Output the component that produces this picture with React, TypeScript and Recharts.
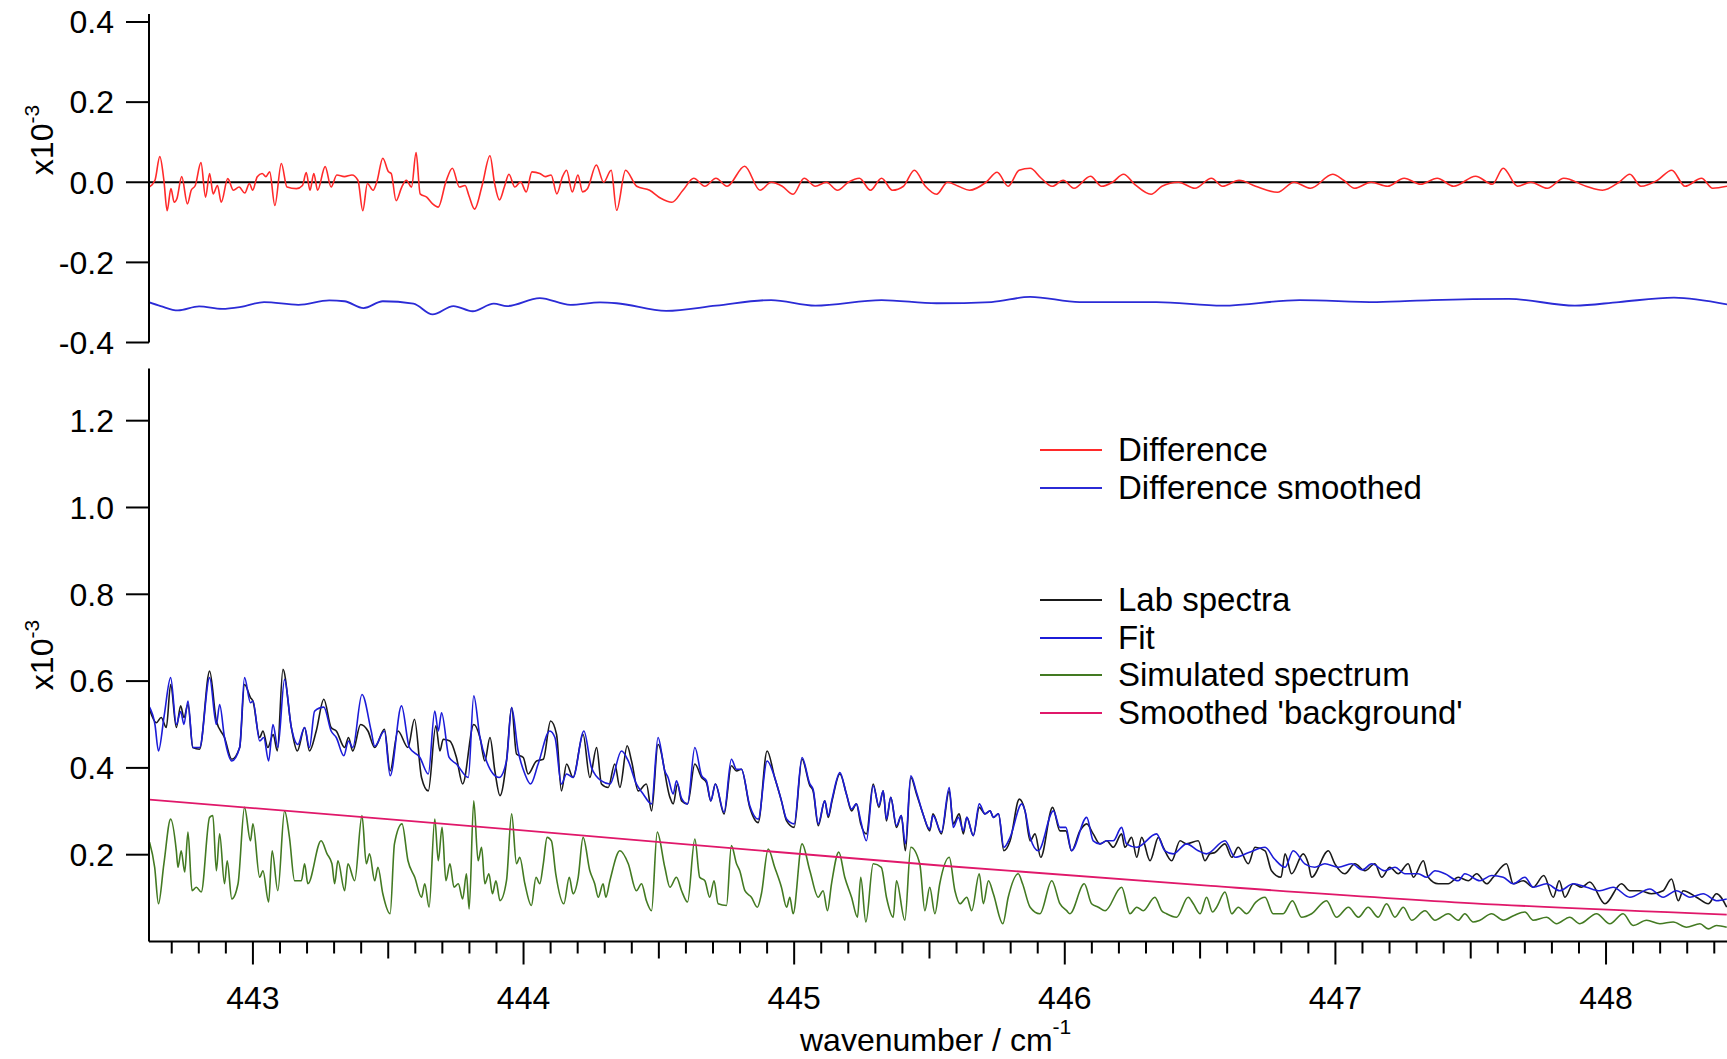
import React from 'react';
import { LineChart, Line, XAxis, YAxis, ReferenceLine } from 'recharts';

type Pt = [number, number];

// wavenumber / cm-1, values in units of 1e-3
const X_DOMAIN: [number, number] = [442.616, 448.447];
const X_TICKS = [
  442.7, 442.8, 442.9, 443, 443.1, 443.2, 443.3, 443.4, 443.5, 443.6, 443.7, 443.8, 443.9,
  444, 444.1, 444.2, 444.3, 444.4, 444.5, 444.6, 444.7, 444.8, 444.9,
  445, 445.1, 445.2, 445.3, 445.4, 445.5, 445.6, 445.7, 445.8, 445.9,
  446, 446.1, 446.2, 446.3, 446.4, 446.5, 446.6, 446.7, 446.8, 446.9,
  447, 447.1, 447.2, 447.3, 447.4, 447.5, 447.6, 447.7, 447.8, 447.9,
  448, 448.1, 448.2, 448.3, 448.4,
];
const X_LABELS = [443, 444, 445, 446, 447, 448];
const HALF_TICKS = [442.5, 443.5, 444.5, 445.5, 446.5, 447.5];
const TOP_TICKS = [-0.4, -0.2, 0, 0.2, 0.4];
const BOTTOM_TICKS = [0.2, 0.4, 0.6, 0.8, 1.0, 1.2];

const DIFFERENCE: Pt[] = [
  [442.617, -0.012], [442.638, 0.005], [442.656, 0.064], [442.671, 0.005], [442.683, -0.071],
  [442.697, -0.016], [442.709, -0.05], [442.719, -0.041], [442.737, 0.014], [442.758, -0.054],
  [442.772, -0.02], [442.787, -0.008], [442.808, 0.049], [442.825, -0.037], [442.84, 0.022],
  [442.853, -0.029], [442.869, -0.008], [442.883, -0.05], [442.907, 0.009], [442.928, -0.02],
  [442.949, -0.012], [442.97, -0.027], [442.987, -0.003], [442.999, -0.02], [443.016, 0.014],
  [443.034, 0.022], [443.048, 0.014], [443.062, 0.026], [443.081, -0.058], [443.105, 0.047],
  [443.126, -0.012], [443.161, -0.016], [443.183, -0.008], [443.197, 0.024], [443.211, -0.02],
  [443.225, 0.022], [443.239, -0.02], [443.267, 0.039], [443.289, -0.012], [443.31, 0.018],
  [443.338, 0.014], [443.366, 0.018], [443.388, 0.005], [443.406, -0.071], [443.423, -0.003],
  [443.444, -0.02], [443.458, 0.001], [443.48, 0.06], [443.501, 0.026], [443.511, 0.022],
  [443.529, -0.046], [443.55, -0.012], [443.567, 0.005], [443.586, -0.012], [443.603, 0.074],
  [443.618, -0.029], [443.642, -0.037], [443.664, -0.054], [443.685, -0.062], [443.713, 0.001],
  [443.737, 0.035], [443.763, -0.012], [443.784, -0.008], [443.798, -0.033], [443.819, -0.067],
  [443.847, -0.008], [443.876, 0.066], [443.893, -0.003], [443.911, -0.044], [443.929, -0.012],
  [443.946, 0.02], [443.968, -0.012], [443.989, 0.001], [444.01, -0.024], [444.031, 0.026],
  [444.06, 0.022], [444.081, 0.014], [444.102, 0.018], [444.123, -0.029], [444.144, 0.014],
  [444.159, 0.03], [444.18, -0.024], [444.201, 0.018], [444.218, -0.024], [444.236, -0.016],
  [444.269, 0.043], [444.296, 0.0], [444.324, 0.03], [444.344, -0.07], [444.377, 0.03],
  [444.418, -0.01], [444.466, -0.02], [444.507, -0.04], [444.548, -0.05], [444.589, -0.02],
  [444.629, 0.01], [444.67, -0.01], [444.711, 0.01], [444.752, -0.01], [444.817, 0.04],
  [444.874, -0.02], [444.915, 0.0], [444.956, -0.01], [444.996, -0.03], [445.037, 0.01],
  [445.078, -0.01], [445.119, 0.0], [445.16, -0.02], [445.2, 0.0], [445.241, 0.01],
  [445.282, -0.02], [445.323, 0.01], [445.363, -0.02], [445.404, -0.01], [445.444, 0.03],
  [445.485, -0.01], [445.526, -0.03], [445.567, 0.0], [445.607, -0.01], [445.648, -0.02],
  [445.709, 0.0], [445.75, 0.025], [445.791, -0.01], [445.831, 0.03], [445.872, 0.035],
  [445.913, 0.01], [445.953, -0.01], [445.994, 0.005], [446.034, -0.015], [446.095, 0.015],
  [446.136, -0.01], [446.176, 0.0], [446.217, 0.02], [446.258, -0.005], [446.319, -0.03],
  [446.359, -0.01], [446.42, 0.0], [446.481, -0.015], [446.542, 0.01], [446.583, -0.01],
  [446.644, 0.005], [446.705, -0.01], [446.786, -0.025], [446.847, 0.0], [446.908, -0.015],
  [446.99, 0.02], [447.03, 0.005], [447.071, -0.015], [447.132, 0.0], [447.193, -0.01],
  [447.254, 0.01], [447.315, -0.005], [447.376, 0.01], [447.437, -0.01], [447.518, 0.015],
  [447.58, -0.005], [447.62, 0.035], [447.673, -0.01], [447.722, 0.0], [447.783, -0.015],
  [447.844, 0.01], [447.926, -0.01], [447.987, -0.02], [448.048, 0.0], [448.088, 0.02],
  [448.129, -0.01], [448.19, 0.005], [448.243, 0.03], [448.292, -0.01], [448.353, 0.01],
  [448.394, -0.015], [448.447, -0.01],
];

const DIFFERENCE_SMOOTHED: Pt[] = [
  [442.614, -0.299], [442.659, -0.309], [442.723, -0.32], [442.801, -0.31], [442.886, -0.316],
  [442.956, -0.311], [443.041, -0.299], [443.168, -0.306], [443.282, -0.295], [443.338, -0.297],
  [443.409, -0.314], [443.48, -0.297], [443.593, -0.303], [443.664, -0.33], [443.741, -0.309],
  [443.812, -0.322], [443.89, -0.303], [443.939, -0.309], [444.06, -0.289], [444.173, -0.306],
  [444.283, -0.3], [444.344, -0.302], [444.527, -0.321], [444.711, -0.308], [444.915, -0.294],
  [445.078, -0.308], [445.323, -0.294], [445.526, -0.302], [445.729, -0.299], [445.872, -0.286],
  [446.055, -0.299], [446.339, -0.299], [446.583, -0.308], [446.868, -0.294], [447.153, -0.299],
  [447.356, -0.294], [447.641, -0.291], [447.885, -0.308], [448.048, -0.299], [448.251, -0.288],
  [448.447, -0.305],
];

const LAB_SPECTRA: Pt[] = [
  [442.618, 0.535], [442.643, 0.504], [442.661, 0.516], [442.68, 0.493], [442.696, 0.592],
  [442.717, 0.493], [442.733, 0.543], [442.745, 0.516], [442.76, 0.546], [442.778, 0.447],
  [442.803, 0.443], [442.84, 0.623], [442.865, 0.508], [442.895, 0.47], [442.922, 0.42],
  [442.951, 0.447], [442.969, 0.592], [442.991, 0.562], [443.0, 0.554], [443.025, 0.47],
  [443.037, 0.485], [443.055, 0.447], [443.075, 0.477], [443.09, 0.439], [443.111, 0.627],
  [443.142, 0.493], [443.164, 0.439], [443.191, 0.493], [443.209, 0.439], [443.234, 0.485],
  [443.262, 0.558], [443.289, 0.493], [443.308, 0.485], [443.339, 0.447], [443.353, 0.47],
  [443.369, 0.439], [443.398, 0.5], [443.425, 0.485], [443.45, 0.447], [443.486, 0.489],
  [443.507, 0.393], [443.536, 0.485], [443.573, 0.447], [443.597, 0.512], [443.623, 0.378],
  [443.648, 0.347], [443.676, 0.497], [443.691, 0.439], [443.703, 0.466], [443.728, 0.462],
  [443.752, 0.424], [443.775, 0.363], [443.816, 0.5], [443.839, 0.47], [443.857, 0.416],
  [443.876, 0.47], [443.894, 0.393], [443.913, 0.336], [443.937, 0.416], [443.956, 0.539],
  [443.974, 0.432], [443.999, 0.424], [444.017, 0.386], [444.048, 0.416], [444.073, 0.42],
  [444.1, 0.508], [444.122, 0.477], [444.14, 0.347], [444.159, 0.409], [444.183, 0.378],
  [444.22, 0.477], [444.245, 0.378], [444.27, 0.447], [444.288, 0.363], [444.313, 0.355],
  [444.337, 0.409], [444.356, 0.355], [444.383, 0.451], [444.399, 0.416], [444.424, 0.347],
  [444.454, 0.363], [444.473, 0.301], [444.497, 0.454], [444.541, 0.332], [444.553, 0.317],
  [444.569, 0.363], [444.584, 0.324], [444.606, 0.317], [444.633, 0.409], [444.658, 0.378],
  [444.676, 0.366], [444.692, 0.324], [444.709, 0.363], [444.741, 0.294], [444.768, 0.405],
  [444.787, 0.393], [444.805, 0.397], [444.836, 0.309], [444.867, 0.274], [444.9, 0.439],
  [444.928, 0.378], [444.953, 0.324], [444.972, 0.278], [445.0, 0.263], [445.029, 0.42],
  [445.058, 0.359], [445.07, 0.347], [445.089, 0.267], [445.113, 0.324], [445.126, 0.286],
  [445.14, 0.324], [445.169, 0.386], [445.193, 0.34], [445.212, 0.301], [445.23, 0.317],
  [445.246, 0.271], [445.267, 0.248], [445.292, 0.363], [445.313, 0.309], [445.329, 0.347],
  [445.341, 0.278], [445.357, 0.332], [445.378, 0.263], [445.396, 0.29], [445.411, 0.209],
  [445.431, 0.378], [445.452, 0.34], [445.476, 0.294], [445.501, 0.255], [445.513, 0.294],
  [445.544, 0.248], [445.573, 0.347], [445.588, 0.271], [445.61, 0.294], [445.625, 0.248],
  [445.638, 0.286], [445.662, 0.244], [445.684, 0.309], [445.705, 0.294], [445.724, 0.301],
  [445.736, 0.286], [445.755, 0.294], [445.775, 0.209], [445.798, 0.232], [445.832, 0.328],
  [445.853, 0.301], [445.872, 0.232], [445.89, 0.248], [445.911, 0.194], [445.955, 0.309],
  [445.982, 0.255], [446.004, 0.255], [446.025, 0.209], [446.056, 0.255], [446.081, 0.271],
  [446.105, 0.248], [446.13, 0.225], [446.155, 0.232], [446.179, 0.217], [446.21, 0.248],
  [446.222, 0.217], [446.247, 0.24], [446.266, 0.194], [446.284, 0.24], [446.315, 0.186],
  [446.346, 0.24], [446.364, 0.217], [446.395, 0.186], [446.426, 0.232], [446.45, 0.225],
  [446.493, 0.232], [446.518, 0.186], [446.536, 0.202], [446.555, 0.205], [446.592, 0.225],
  [446.617, 0.194], [446.641, 0.217], [446.678, 0.179], [446.703, 0.217], [446.74, 0.209],
  [446.764, 0.163], [446.799, 0.148], [446.814, 0.202], [446.838, 0.156], [446.881, 0.202],
  [446.9, 0.179], [446.912, 0.148], [446.974, 0.209], [446.998, 0.179], [447.035, 0.156],
  [447.072, 0.179], [447.109, 0.163], [447.146, 0.179], [447.171, 0.148], [447.201, 0.171],
  [447.232, 0.156], [447.269, 0.179], [447.288, 0.148], [447.325, 0.186], [447.343, 0.148],
  [447.38, 0.133], [447.417, 0.133], [447.454, 0.148], [447.491, 0.14], [447.522, 0.156],
  [447.559, 0.133], [447.583, 0.148], [447.632, 0.179], [447.657, 0.133], [447.694, 0.14],
  [447.731, 0.125], [447.77, 0.152], [447.805, 0.102], [447.827, 0.14], [447.848, 0.102],
  [447.879, 0.133], [447.91, 0.125], [447.94, 0.137], [447.996, 0.087], [448.057, 0.133],
  [448.088, 0.117], [448.125, 0.117], [448.168, 0.11], [448.211, 0.117], [448.242, 0.144],
  [448.267, 0.094], [448.285, 0.117], [448.334, 0.102], [448.378, 0.087], [448.408, 0.11],
  [448.446, 0.079],
];

const FIT: Pt[] = [
  [442.618, 0.54], [442.638, 0.5], [442.651, 0.439], [442.672, 0.52], [442.696, 0.608],
  [442.717, 0.5], [442.733, 0.53], [442.745, 0.5], [442.76, 0.554], [442.778, 0.447],
  [442.803, 0.447], [442.84, 0.608], [442.865, 0.5], [442.877, 0.546], [442.895, 0.47],
  [442.922, 0.416], [442.951, 0.447], [442.969, 0.608], [442.991, 0.55], [443.0, 0.554],
  [443.025, 0.462], [443.04, 0.47], [443.058, 0.416], [443.074, 0.5], [443.092, 0.447],
  [443.117, 0.604], [443.142, 0.493], [443.166, 0.454], [443.191, 0.493], [443.209, 0.447],
  [443.228, 0.531], [443.262, 0.54], [443.289, 0.485], [443.308, 0.47], [443.336, 0.428],
  [443.353, 0.462], [443.369, 0.447], [443.403, 0.569], [443.437, 0.485], [443.45, 0.45],
  [443.486, 0.485], [443.507, 0.382], [443.549, 0.543], [443.578, 0.447], [443.617, 0.424],
  [443.648, 0.386], [443.672, 0.531], [443.685, 0.485], [443.697, 0.527], [443.725, 0.424],
  [443.752, 0.409], [443.796, 0.378], [443.816, 0.566], [443.839, 0.47], [443.863, 0.416],
  [443.888, 0.386], [443.91, 0.378], [443.937, 0.416], [443.956, 0.539], [443.98, 0.439],
  [444.005, 0.386], [444.026, 0.363], [444.054, 0.409], [444.097, 0.485], [444.116, 0.47],
  [444.14, 0.363], [444.159, 0.386], [444.183, 0.378], [444.223, 0.485], [444.251, 0.401],
  [444.288, 0.37], [444.319, 0.363], [444.362, 0.439], [444.387, 0.416], [444.417, 0.363],
  [444.442, 0.34], [444.473, 0.317], [444.497, 0.47], [444.522, 0.393], [444.534, 0.378],
  [444.553, 0.34], [444.565, 0.37], [444.584, 0.33], [444.606, 0.317], [444.633, 0.447],
  [444.658, 0.382], [444.676, 0.37], [444.692, 0.324], [444.709, 0.363], [444.741, 0.298],
  [444.768, 0.42], [444.787, 0.397], [444.805, 0.397], [444.836, 0.313], [444.867, 0.282],
  [444.9, 0.416], [444.928, 0.378], [444.953, 0.324], [444.972, 0.282], [445.0, 0.271],
  [445.029, 0.424], [445.058, 0.363], [445.07, 0.351], [445.089, 0.271], [445.113, 0.324],
  [445.126, 0.29], [445.14, 0.328], [445.169, 0.389], [445.193, 0.34], [445.212, 0.305],
  [445.23, 0.317], [445.246, 0.278], [445.267, 0.232], [445.292, 0.359], [445.313, 0.313],
  [445.329, 0.347], [445.341, 0.282], [445.357, 0.332], [445.378, 0.267], [445.396, 0.29],
  [445.411, 0.225], [445.431, 0.382], [445.452, 0.344], [445.476, 0.294], [445.501, 0.259],
  [445.513, 0.29], [445.544, 0.252], [445.573, 0.355], [445.588, 0.263], [445.607, 0.286],
  [445.625, 0.255], [445.638, 0.286], [445.662, 0.244], [445.684, 0.317], [445.705, 0.294],
  [445.724, 0.301], [445.736, 0.286], [445.755, 0.294], [445.775, 0.217], [445.798, 0.24],
  [445.841, 0.317], [445.853, 0.301], [445.872, 0.24], [445.902, 0.209], [445.958, 0.301],
  [445.982, 0.263], [446.004, 0.263], [446.025, 0.209], [446.081, 0.286], [446.105, 0.232],
  [446.13, 0.225], [446.155, 0.232], [446.179, 0.232], [446.21, 0.263], [446.228, 0.225],
  [446.266, 0.217], [446.339, 0.248], [446.37, 0.209], [446.401, 0.202], [446.45, 0.225],
  [446.493, 0.209], [446.524, 0.202], [446.592, 0.232], [446.629, 0.194], [446.68, 0.205],
  [446.74, 0.217], [446.775, 0.19], [446.814, 0.171], [446.844, 0.209], [446.887, 0.179],
  [446.924, 0.171], [446.961, 0.179], [447.011, 0.171], [447.06, 0.179], [447.1, 0.165],
  [447.134, 0.179], [447.183, 0.163], [447.22, 0.171], [447.257, 0.156], [447.306, 0.156],
  [447.337, 0.148], [447.368, 0.163], [447.405, 0.156], [447.454, 0.14], [447.478, 0.156],
  [447.534, 0.14], [447.577, 0.152], [447.62, 0.148], [447.657, 0.133], [447.7, 0.148],
  [447.731, 0.125], [447.78, 0.133], [447.829, 0.117], [447.879, 0.133], [447.928, 0.125],
  [447.977, 0.117], [448.026, 0.125], [448.088, 0.102], [448.162, 0.121], [448.211, 0.102],
  [448.26, 0.117], [448.31, 0.102], [448.359, 0.11], [448.408, 0.094], [448.446, 0.098],
];

const SIMULATED: Pt[] = [
  [442.618, 0.229], [442.637, 0.171], [442.651, 0.087], [442.671, 0.179], [442.696, 0.282],
  [442.717, 0.209], [442.723, 0.171], [442.735, 0.209], [442.748, 0.16], [442.76, 0.252],
  [442.775, 0.117], [442.791, 0.125], [442.809, 0.114], [442.84, 0.286], [442.852, 0.29],
  [442.865, 0.163], [442.877, 0.248], [442.895, 0.133], [442.905, 0.186], [442.922, 0.098],
  [442.945, 0.133], [442.969, 0.309], [442.991, 0.232], [443.0, 0.271], [443.025, 0.148],
  [443.037, 0.163], [443.058, 0.091], [443.071, 0.209], [443.092, 0.117], [443.117, 0.301],
  [443.135, 0.24], [443.154, 0.14], [443.179, 0.14], [443.191, 0.179], [443.203, 0.133],
  [443.252, 0.232], [443.274, 0.202], [443.292, 0.179], [443.302, 0.133], [443.314, 0.186],
  [443.339, 0.117], [443.351, 0.179], [443.376, 0.14], [443.403, 0.29], [443.419, 0.179],
  [443.431, 0.202], [443.45, 0.14], [443.462, 0.171], [443.48, 0.11], [443.507, 0.064],
  [443.523, 0.225], [443.551, 0.271], [443.573, 0.186], [443.598, 0.148], [443.623, 0.102],
  [443.635, 0.133], [443.651, 0.079], [443.672, 0.282], [443.685, 0.186], [443.699, 0.263],
  [443.713, 0.14], [443.728, 0.179], [443.743, 0.125], [443.759, 0.133], [443.775, 0.098],
  [443.789, 0.156], [443.799, 0.075], [443.816, 0.324], [443.832, 0.186], [443.845, 0.217],
  [443.857, 0.133], [443.872, 0.156], [443.885, 0.11], [443.898, 0.14], [443.913, 0.094],
  [443.937, 0.14], [443.956, 0.294], [443.974, 0.179], [443.986, 0.194], [444.005, 0.133],
  [444.029, 0.083], [444.046, 0.148], [444.06, 0.133], [444.073, 0.179], [444.087, 0.24],
  [444.103, 0.232], [444.119, 0.156], [444.149, 0.087], [444.169, 0.148], [444.183, 0.11],
  [444.202, 0.148], [444.22, 0.24], [444.245, 0.163], [444.263, 0.133], [444.276, 0.102],
  [444.294, 0.133], [444.304, 0.102], [444.319, 0.14], [444.356, 0.209], [444.387, 0.179],
  [444.417, 0.117], [444.436, 0.133], [444.454, 0.094], [444.473, 0.071], [444.494, 0.252],
  [444.522, 0.171], [444.541, 0.125], [444.565, 0.148], [444.584, 0.117], [444.606, 0.091],
  [444.633, 0.236], [444.651, 0.148], [444.67, 0.14], [444.688, 0.102], [444.704, 0.14],
  [444.719, 0.087], [444.75, 0.083], [444.768, 0.221], [444.787, 0.179], [444.799, 0.163],
  [444.818, 0.117], [444.842, 0.102], [444.864, 0.079], [444.879, 0.11], [444.904, 0.213],
  [444.928, 0.171], [444.953, 0.125], [444.972, 0.079], [444.984, 0.102], [444.996, 0.064],
  [445.029, 0.225], [445.058, 0.163], [445.089, 0.102], [445.107, 0.117], [445.123, 0.071],
  [445.138, 0.133], [445.165, 0.206], [445.187, 0.148], [445.212, 0.102], [445.234, 0.056],
  [445.246, 0.148], [445.265, 0.045], [445.292, 0.179], [445.322, 0.171], [445.341, 0.102],
  [445.366, 0.056], [445.378, 0.14], [445.409, 0.049], [445.431, 0.217], [445.464, 0.179],
  [445.483, 0.071], [445.501, 0.125], [445.52, 0.064], [445.538, 0.133], [445.573, 0.194],
  [445.594, 0.117], [445.613, 0.087], [445.638, 0.102], [445.656, 0.071], [445.684, 0.156],
  [445.699, 0.087], [445.718, 0.14], [445.736, 0.11], [445.771, 0.041], [445.791, 0.102],
  [445.828, 0.156], [445.844, 0.133], [445.872, 0.079], [445.908, 0.064], [445.952, 0.14],
  [445.982, 0.087], [446.007, 0.071], [446.019, 0.064], [446.072, 0.133], [446.099, 0.087],
  [446.124, 0.079], [446.149, 0.071], [446.21, 0.125], [446.241, 0.064], [446.266, 0.079],
  [446.29, 0.071], [446.333, 0.102], [446.358, 0.071], [446.376, 0.064], [446.413, 0.056],
  [446.456, 0.102], [446.475, 0.087], [446.5, 0.064], [446.524, 0.102], [446.546, 0.068],
  [446.561, 0.079], [446.592, 0.114], [446.617, 0.064], [446.641, 0.079], [446.672, 0.064],
  [446.705, 0.09], [446.74, 0.102], [446.77, 0.064], [446.807, 0.064], [446.841, 0.094],
  [446.875, 0.056], [446.912, 0.064], [446.967, 0.094], [447.004, 0.056], [447.048, 0.079],
  [447.085, 0.056], [447.121, 0.079], [447.158, 0.056], [447.189, 0.087], [447.22, 0.056],
  [447.251, 0.079], [447.282, 0.049], [447.331, 0.071], [447.368, 0.049], [447.417, 0.064],
  [447.454, 0.049], [447.478, 0.064], [447.509, 0.045], [447.534, 0.049], [447.577, 0.064],
  [447.62, 0.049], [447.66, 0.06], [447.7, 0.068], [447.731, 0.049], [447.78, 0.056],
  [447.817, 0.041], [447.866, 0.056], [447.903, 0.041], [447.965, 0.064], [448.014, 0.041],
  [448.063, 0.064], [448.1, 0.037], [448.15, 0.049], [448.199, 0.041], [448.248, 0.045],
  [448.297, 0.033], [448.347, 0.041], [448.378, 0.029], [448.408, 0.037], [448.446, 0.033],
];

const BACKGROUND: Pt[] = [
  [442.618, 0.327], [443.597, 0.277], [444.58, 0.225], [445.56, 0.174],
  [446.54, 0.128], [447.51, 0.088], [448.446, 0.062],
];

const RED = '#ff2a2a';
const BLUE_SMOOTH = '#2b2bd6';
const BLACK = '#1a1a1a';
const BLUE_FIT = '#1c1cd8';
const GREEN = '#437a22';
const PINK = '#e0186a';

const FONT = 'Arial, "Liberation Sans", sans-serif';
const rows = (pts: Pt[]) => pts.map(([x, y]) => ({ x, y }));

const axisStyle = { stroke: '#000', strokeWidth: 2 };

function XTick(props: any) {
  const { x, y, payload } = props;
  const v: number = payload.value;
  const isMajor = X_LABELS.some((t) => Math.abs(t - v) < 1e-6);
  const isHalf = HALF_TICKS.some((t) => Math.abs(t - v) < 1e-6);
  const len = isMajor ? 23 : isHalf ? 17 : 12;
  return (
    <g>
      <line x1={x} x2={x} y1={y} y2={y + len} stroke="#000" strokeWidth={2} />
      {isMajor && (
        <text x={x} y={y + 67} textAnchor="middle" fontSize={32} fill="#000" fontFamily={FONT}>
          {Math.round(v)}
        </text>
      )}
    </g>
  );
}

const LEGEND = [
  { name: 'Difference', color: RED, top: 450 },
  { name: 'Difference smoothed', color: BLUE_SMOOTH, top: 488 },
  { name: 'Lab spectra', color: BLACK, top: 600 },
  { name: 'Fit', color: BLUE_FIT, top: 638 },
  { name: 'Simulated spectrum', color: GREEN, top: 675 },
  { name: "Smoothed 'background'", color: PINK, top: 713 },
];

function YTitle({ cy }: { cy: number }) {
  return (
    <div
      style={{
        position: 'absolute', left: 42, top: cy, fontSize: 32, lineHeight: 1,
        whiteSpace: 'nowrap', transform: 'translate(-50%, -50%) rotate(-90deg)',
      }}
    >
      x10<span style={{ fontSize: 21, position: 'relative', top: -14 }}>-3</span>
    </div>
  );
}

export default function App() {
  return (
    <div
      style={{
        position: 'absolute', left: 0, top: 0, width: 1727, height: 1059,
        background: '#fff', fontFamily: FONT, color: '#000', overflow: 'hidden',
      }}
    >
      <div style={{ position: 'absolute', left: 0, top: 0 }}>
        <LineChart width={1727} height={360} margin={{ top: 14, right: 0, bottom: 17.5, left: 0 }}>
          <XAxis dataKey="x" type="number" domain={X_DOMAIN} allowDataOverflow hide />
          <YAxis
            type="number" domain={[-0.4, 0.42]} ticks={TOP_TICKS} interval={0} allowDataOverflow
            width={149} tickSize={23} tickMargin={12} axisLine={axisStyle} tickLine={axisStyle}
            tick={{ fontSize: 32, fill: '#000' }} tickFormatter={(v: number) => v.toFixed(1)}
          />
          <ReferenceLine y={0} stroke="#000" strokeWidth={2} />
          <Line data={rows(DIFFERENCE)} dataKey="y" name="Difference" type="monotone"
            stroke={RED} strokeWidth={1.6} dot={false} isAnimationActive={false} />
          <Line data={rows(DIFFERENCE_SMOOTHED)} dataKey="y" name="Difference smoothed" type="monotone"
            stroke={BLUE_SMOOTH} strokeWidth={1.8} dot={false} isAnimationActive={false} />
        </LineChart>
      </div>
      <div style={{ position: 'absolute', left: 0, top: 350 }}>
        <LineChart width={1727} height={709} margin={{ top: 18.6, right: 0, bottom: 0, left: 0 }}>
          <XAxis
            dataKey="x" type="number" domain={X_DOMAIN} allowDataOverflow ticks={X_TICKS} interval={0}
            height={117.5} tickSize={0} tickMargin={0} tickLine={false} axisLine={axisStyle}
            tick={XTick}
          />
          <YAxis
            type="number" domain={[0, 1.32]} ticks={BOTTOM_TICKS} interval={0} allowDataOverflow
            width={149} tickSize={23} tickMargin={12} axisLine={axisStyle} tickLine={axisStyle}
            tick={{ fontSize: 32, fill: '#000' }} tickFormatter={(v: number) => v.toFixed(1)}
          />
          <Line data={rows(LAB_SPECTRA)} dataKey="y" name="Lab spectra" type="monotone"
            stroke={BLACK} strokeWidth={1.6} dot={false} isAnimationActive={false} />
          <Line data={rows(FIT)} dataKey="y" name="Fit" type="monotone"
            stroke={BLUE_FIT} strokeWidth={1.6} dot={false} isAnimationActive={false} />
          <Line data={rows(SIMULATED)} dataKey="y" name="Simulated spectrum" type="monotone"
            stroke={GREEN} strokeWidth={1.6} dot={false} isAnimationActive={false} />
          <Line data={rows(BACKGROUND)} dataKey="y" name="Smoothed 'background'" type="monotone"
            stroke={PINK} strokeWidth={1.8} dot={false} isAnimationActive={false} />
        </LineChart>
      </div>

      {LEGEND.map((l) => (
        <div key={l.name} style={{ position: 'absolute', left: 1040, top: l.top - 16, height: 32, display: 'flex', alignItems: 'center' }}>
          <div style={{ width: 62, height: 1.6, background: l.color }} />
          <div style={{ marginLeft: 16, fontSize: 33, lineHeight: '32px', whiteSpace: 'nowrap' }}>{l.name}</div>
        </div>
      ))}

      <YTitle cy={140} />
      <YTitle cy={655} />

      <div style={{ position: 'absolute', left: 800, top: 1024, fontSize: 32, lineHeight: 1, whiteSpace: 'nowrap' }}>
        wavenumber / cm<span style={{ fontSize: 21, position: 'relative', top: -17 }}>-1</span>
      </div>
    </div>
  );
}
